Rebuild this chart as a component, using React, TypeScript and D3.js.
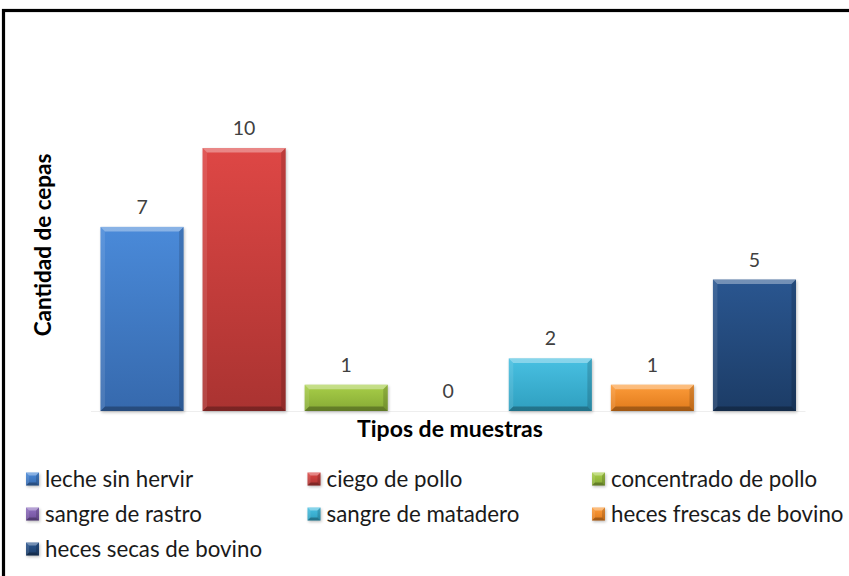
import React from "react";
import * as d3 from "d3";

const categories = [
  "leche sin hervir",
  "ciego de pollo",
  "concentrado de pollo",
  "sangre de rastro",
  "sangre de matadero",
  "heces frescas de bovino",
  "heces secas de bovino",
];
const values = [7, 10, 1, 0, 2, 1, 5];
const topColors = ["#4a8ad9", "#de4745", "#a8cf48", "#9070c0", "#48c0e2", "#fd9c3a", "#2a5690"];
const bottomColors = ["#3669ad", "#aa3331", "#86a935", "#6f4f9a", "#2f9fbf", "#e07a1b", "#1c3c66"];
const yTitle = "Cantidad de cepas";
const xTitle = "Tipos de muestras";

const W = 849;
const H = 576;
const FONT = "Lato, 'Open Sans', sans-serif";

function bevelShapes(x0: number, y0: number, x1: number, y1: number, b: number) {
  const bb = Math.min(b, (y1 - y0) / 2, (x1 - x0) / 2);
  const top = `${x0},${y0} ${x1},${y0} ${x1 - bb},${y0 + bb} ${x0 + bb},${y0 + bb}`;
  const left = `${x0},${y0} ${x0 + bb},${y0 + bb} ${x0 + bb},${y1 - bb} ${x0},${y1}`;
  const right = `${x1},${y0} ${x1},${y1} ${x1 - bb},${y1 - bb} ${x1 - bb},${y0 + bb}`;
  const bottom = `${x0},${y1} ${x1},${y1} ${x1 - bb},${y1 - bb} ${x0 + bb},${y1 - bb}`;
  return { top, left, right, bottom };
}

function BevelRect({ x, y, w, h, i, b }: { x: number; y: number; w: number; h: number; i: number; b: number }) {
  if (h <= 0) return null;
  const s = bevelShapes(x, y, x + w, y + h, b);
  return (
    <g>
      <rect x={x + 1} y={y + 1.5} width={w} height={h} fill="#000" opacity={0.25} filter="url(#shadow)" />
      <rect x={x} y={y} width={w} height={h} fill={`url(#grad${i})`} />
      <polygon points={s.top} fill="#fff" opacity={0.35} />
      <polygon points={s.left} fill="#fff" opacity={0.1} />
      <polygon points={s.right} fill="#000" opacity={0.15} />
      <polygon points={s.bottom} fill="#000" opacity={0.28} />
    </g>
  );
}

export default function App() {
  const x = d3
    .scaleBand<string>()
    .domain(categories)
    .range([91, 805.5])
    .paddingInner(0.186)
    .paddingOuter(0.093);
  const y = d3.scaleLinear().domain([0, 12]).range([411, 411 - 12 * 26.3]);

  const legendCols = [26, 307.5, 592];
  const legendRows = [486.5, 521.5, 556.5];

  return (
    <svg
      width={W}
      height={H}
      style={{ position: "absolute", left: 0, top: 0, background: "#fff" }}
      fontFamily={FONT}
    >
      <defs>
        {categories.map((c, i) => (
          <linearGradient key={c} id={`grad${i}`} x1="0" y1="0" x2="0" y2="1">
            <stop offset="0%" stopColor={topColors[i]} />
            <stop offset="100%" stopColor={bottomColors[i]} />
          </linearGradient>
        ))}
        <filter id="shadow" x="-20%" y="-20%" width="140%" height="140%">
          <feGaussianBlur stdDeviation="1.5" />
        </filter>
      </defs>
      <rect x={0} y={0} width={W} height={H} fill="#fff" />
      <rect x={3.5} y={10.5} width={W + 20} height={H + 20} fill="none" stroke="#000" strokeWidth={3.2} />

      <line x1={91} x2={805.5} y1={y(0) + 0.5} y2={y(0) + 0.5} stroke="#eeeeee" strokeWidth={1} />

      {categories.map((c, i) => {
        const bx = x(c)!;
        const by = y(values[i]);
        const bh = y(0) - by;
        return (
          <g key={c}>
            <BevelRect x={bx} y={by} w={x.bandwidth()} h={bh} i={i} b={4.5} />
            <text
              x={bx + x.bandwidth() / 2}
              y={by - 13}
              textAnchor="middle"
              fontSize={19.5}
              fill="#404040"
            >
              {values[i]}
            </text>
          </g>
        );
      })}

      <text x={450} y={437} textAnchor="middle" fontSize={23} fontWeight="bold" fill="#000">
        {xTitle}
      </text>
      <text
        transform="translate(51,245) rotate(-90)"
        textAnchor="middle"
        fontSize={22.5}
        fontWeight="bold"
        fill="#000"
      >
        {yTitle}
      </text>

      {categories.map((c, i) => {
        const col = i % 3;
        const row = Math.floor(i / 3);
        const lx = legendCols[col];
        const ly = legendRows[row];
        return (
          <g key={`leg-${c}`}>
            <BevelRect x={lx} y={ly - 14} w={13} h={13} i={i} b={3} />
            <text x={lx + 19} y={ly} fontSize={22.3} fill="#1a1a1a">
              {c}
            </text>
          </g>
        );
      })}
    </svg>
  );
}
